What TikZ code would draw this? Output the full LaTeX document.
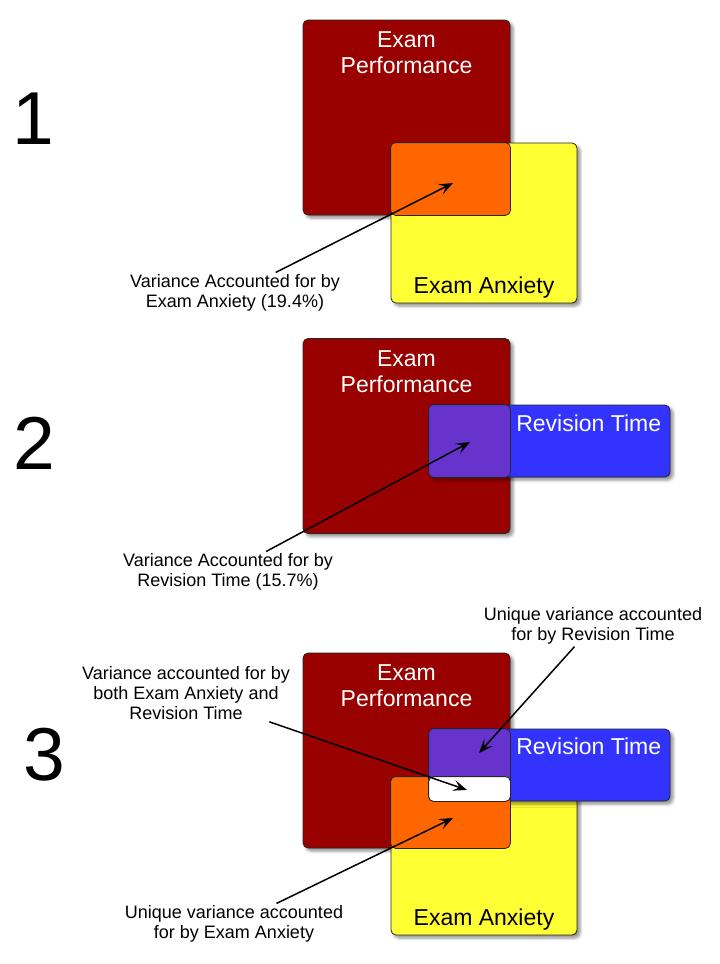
\documentclass[tikz,border=0pt]{standalone}
\usepackage{fontspec}
\setmainfont{Liberation Sans}
\usetikzlibrary{arrows.meta,shadows.blur}

\definecolor{perfred}{HTML}{990000}
\definecolor{anxyellow}{HTML}{FFFF33}
\definecolor{revblue}{HTML}{3333FF}
\definecolor{overorange}{HTML}{FF6600}
\definecolor{overpurple}{HTML}{6633CC}

\begin{document}
\begin{tikzpicture}[
		x=1pt, y=-1pt,
		venbox/.style={
			draw=black!85,
			line width=0.8pt,
			rounded corners=5pt,
			inner sep=0pt,
			blur shadow={shadow xshift=3pt, shadow yshift=-3pt, shadow blur radius=3pt, shadow opacity=45}
		},
		perfbox/.style={venbox, fill=perfred, minimum width=207pt, minimum height=195pt},
		anxbox/.style={venbox, fill=anxyellow, minimum width=186pt, minimum height=160pt},
		revbox/.style={venbox, fill=revblue, minimum width=241pt, minimum height=72pt},
		overlap/.style={draw=black!85, line width=0.8pt, rounded corners=5pt},
		boxtitle/.style={
			inner sep=0pt,
			align=center,
			font=\fontsize{23}{26}\selectfont
		},
		note/.style={
			inner sep=2pt,
			align=center,
			font=\fontsize{18}{20}\selectfont
		},
		num/.style={font=\fontsize{75}{80}\selectfont, anchor=base},
		pointer/.style={draw, line width=1.5pt, -{Stealth[length=14pt, width=11pt, inset=6pt]}}
		]
		
		\useasboundingbox (0,0) rectangle (720,964);
		
		% Panel numbers
		\node[num] (n1) at (33,144) {1};
		\node[num] (n2) at (34,469) {2};
		\node[num] (n3) at (44,780) {3};
		
		% ---------- Panel 1: exam anxiety ----------
		\node[perfbox] (perf1) at (406.5,117.5) {};
		\node[anxbox] (anx1) at (484,223) {};
		\draw[overlap, fill=overorange] (anx1.north west) rectangle (perf1.south east);
		\node[boxtitle, white, anchor=north] (perftxt1) at ([yshift=-12pt]perf1.north) {Exam\\Performance};
		\node[boxtitle, anchor=base] (anxtxt1) at ([yshift=10pt]anx1.south) {Exam Anxiety};
		
		\node[note] (va1) at (235,293) {Variance Accounted for by\\Exam Anxiety (19.4\%)};
		\coordinate (t1) at (453,183);
		\draw[pointer] (va1) -- (t1);
		
		% ---------- Panel 2: revision time ----------
		\node[perfbox] (perf2) at (406.5,436) {};
		\node[revbox] (rev2) at (549.5,441) {};
		\draw[overlap, fill=overpurple] (rev2.north west) rectangle (perf2.east |- rev2.south);
		\node[boxtitle, white, anchor=north] (perftxt2) at ([yshift=-12pt]perf2.north) {Exam\\Performance};
		\node[boxtitle, white, anchor=base east] (revtxt2) at ([xshift=-9pt, yshift=-27pt]rev2.north east) {Revision Time};
		
		\node[note] (va2) at (228,572) {Variance Accounted for by\\Revision Time (15.7\%)};
		\coordinate (t2) at (470,442);
		\draw[pointer] (va2) -- (t2);
		
		% ---------- Panel 3: both predictors ----------
		\node[perfbox] (perf3) at (406.5,750.5) {};
		\node[anxbox, minimum height=158pt] (anx3) at (484,856) {};
		\node[revbox] (rev3) at (549.5,765) {};
		\draw[overlap, fill=overorange] (anx3.north west) rectangle (perf3.south east);
		\draw[overlap, fill=overpurple] (rev3.north west) rectangle (perf3.east |- rev3.south);
		\draw[overlap, fill=white] (rev3.west |- anx3.north) rectangle (perf3.east |- rev3.south);
		\node[boxtitle, white, anchor=north] (perftxt3) at ([yshift=-12pt]perf3.north) {Exam\\Performance};
		\node[boxtitle, white, anchor=base east] (revtxt3) at ([xshift=-9pt, yshift=-26pt]rev3.north east) {Revision Time};
		\node[boxtitle, anchor=base] (anxtxt3) at ([yshift=10pt]anx3.south) {Exam Anxiety};
		
		\node[note] (ur3) at (593,626) {Unique variance accounted\\for by Revision Time};
		\node[note] (vb3) at (186,693) {Variance accounted for by\\both Exam Anxiety and\\Revision Time};
		\node[note] (ua3) at (234,924) {Unique variance accounted\\for by Exam Anxiety};
		\coordinate (t3r) at (479,753);
		\coordinate (t3b) at (467,790);
		\coordinate (t3a) at (453,818);
		\draw[pointer] (ur3) -- (t3r);
		\draw[pointer] (vb3) -- (t3b);
		\draw[pointer] (ua3) -- (t3a);
		
	\end{tikzpicture}
\end{document}
